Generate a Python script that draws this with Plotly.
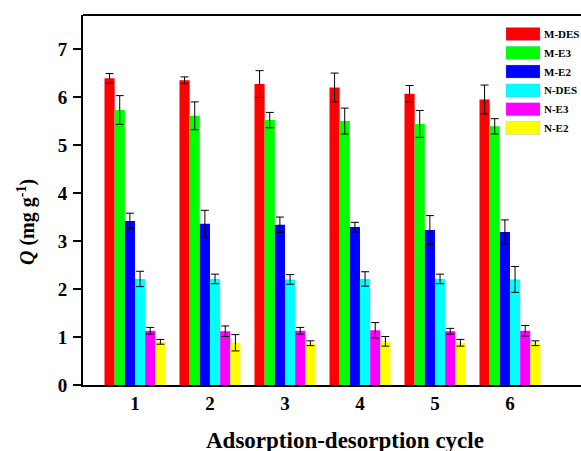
import plotly.graph_objects as go

cycles = [1, 2, 3, 4, 5, 6]
series_names = ["M-DES", "M-E3", "M-E2", "N-DES", "N-E3", "N-E2"]
colors = ["#FF0000", "#00FF00", "#0000FF", "#00FFFF", "#FF00FF", "#FFFF00"]

m_des = [6.39, 6.35, 6.27, 6.20, 6.07, 5.95]
m_des_err = [0.10, 0.07, 0.28, 0.30, 0.17, 0.30]
m_e3 = [5.73, 5.61, 5.52, 5.50, 5.44, 5.39]
m_e3_err = [0.30, 0.29, 0.16, 0.27, 0.28, 0.16]
m_e2 = [3.42, 3.36, 3.34, 3.29, 3.23, 3.19]
m_e2_err = [0.16, 0.28, 0.16, 0.10, 0.30, 0.25]
n_des = [2.21, 2.21, 2.20, 2.21, 2.21, 2.20]
n_des_err = [0.16, 0.10, 0.10, 0.15, 0.10, 0.27]
n_e3 = [1.13, 1.12, 1.13, 1.14, 1.12, 1.13]
n_e3_err = [0.07, 0.11, 0.07, 0.16, 0.06, 0.11]
n_e2 = [0.90, 0.88, 0.87, 0.91, 0.88, 0.87]
n_e2_err = [0.05, 0.17, 0.05, 0.10, 0.07, 0.05]

values = [m_des, m_e3, m_e2, n_des, n_e3, n_e2]
errors = [m_des_err, m_e3_err, m_e2_err, n_des_err, n_e3_err, n_e2_err]

FONT = "Liberation Serif"

fig = go.Figure()
for name, col, vals, errs in zip(series_names, colors, values, errors):
    fig.add_trace(go.Bar(
        x=cycles, y=vals, name=name,
        marker=dict(color=col, line=dict(width=0)),
        error_y=dict(type="data", array=errs, visible=True,
                     color="black", thickness=1, width=4),
        showlegend=False,
    ))

# plot area geometry (px) used for the custom legend / titles
L, R, T, B = 83, 581, 15, 385
W, H = R - L, B - T

def px_x(p):
    return (p - L) / W

def px_y(p):
    return (B - p) / H

shapes = []
annotations = []
leg_y0 = 34
leg_dy = 18.8
for i, (name, col) in enumerate(zip(series_names, colors)):
    cy = leg_y0 + i * leg_dy
    shapes.append(dict(type="rect", xref="paper", yref="paper",
                       x0=px_x(506), x1=px_x(540),
                       y0=px_y(cy + 6.5), y1=px_y(cy - 6.5),
                       fillcolor=col, line=dict(width=0.5, color="rgba(150,150,255,0.6)")))
    annotations.append(dict(xref="paper", yref="paper", x=px_x(542), y=px_y(cy),
                            text="<b>" + name + "</b>", showarrow=False,
                            xanchor="left", yanchor="middle",
                            font=dict(family=FONT, size=11, color="black")))

# axis titles
annotations.append(dict(xref="paper", yref="paper", x=px_x(345), y=px_y(440),
                        text="<b>Adsorption-desorption cycle</b>", showarrow=False,
                        xanchor="center", yanchor="middle",
                        font=dict(family=FONT, size=23, color="black")))
annotations.append(dict(xref="paper", yref="paper", x=px_x(26), y=px_y(222),
                        text="<b><i>Q</i> (mg g<sup>-1</sup>)</b>", showarrow=False,
                        textangle=-90, xanchor="center", yanchor="middle",
                        font=dict(family=FONT, size=20, color="black")))

# top border line
shapes.append(dict(type="line", xref="paper", yref="paper",
                   x0=0, x1=1, y0=1, y1=1, line=dict(color="black", width=2)))

fig.update_layout(
    width=581, height=451,
    margin=dict(l=L, r=0, t=T, b=451 - B),
    paper_bgcolor="white", plot_bgcolor="white",
    barmode="group", bargap=0.187, bargroupgap=0,
    font=dict(family=FONT, color="black"),
    shapes=shapes, annotations=annotations,
    showlegend=False,
)

fig.update_xaxes(
    range=[0.307, 6.947], tickmode="array", tickvals=cycles,
    ticktext=["<b>%d</b>" % c for c in cycles],
    showline=True, linecolor="black", linewidth=2,
    ticks="", showgrid=False, zeroline=False,
    tickfont=dict(family=FONT, size=19),
)
fig.update_yaxes(
    range=[0, 7.71], tickmode="array", tickvals=list(range(8)),
    ticktext=["<b>%d</b>" % v for v in range(8)],
    showline=True, linecolor="black", linewidth=2,
    ticks="outside", ticklen=8, tickwidth=2, tickcolor="black",
    showgrid=False, zeroline=False, ticklabelstandoff=2,
    tickfont=dict(family=FONT, size=19),
)

fig.write_html("out.html", config={"displayModeBar": False},
               post_script="document.body.style.margin='0';document.body.style.overflow='hidden';")
